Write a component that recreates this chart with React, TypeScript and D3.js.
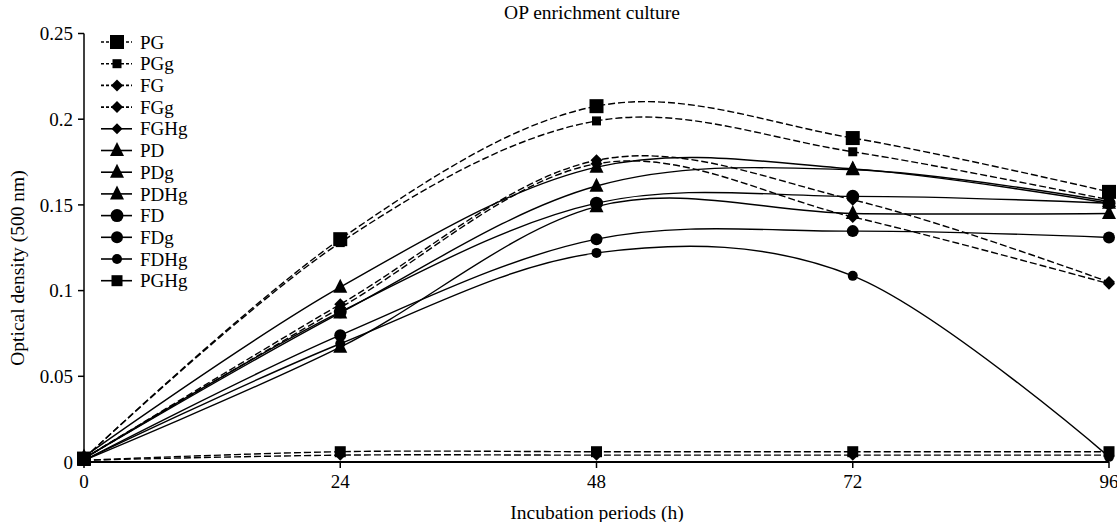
import React from "react";
import * as d3 from "d3";

// incubation periods (h)
const hours = [0, 24, 48, 72, 96];
const yTicks = [0, 0.05, 0.1, 0.15, 0.2, 0.25];

// optical density (500 nm) per culture
const PG = [0.002, 0.13, 0.2076, 0.189, 0.1576];
const PGg = [0.002, 0.128, 0.199, 0.181, 0.153];
const FG = [0.002, 0.092, 0.176, 0.153, 0.105];
const FGg = [0.002, 0.09, 0.174, 0.143, 0.104];
const FGHg = [0.001, 0.004, 0.004, 0.004, 0.004];
const PD = [0.003, 0.102, 0.172, 0.171, 0.151];
const PDg = [0.002, 0.087, 0.161, 0.1705, 0.152];
const PDHg = [0.001, 0.067, 0.149, 0.145, 0.145];
const FD = [0.002, 0.0876, 0.151, 0.155, 0.151];
const FDg = [0.001, 0.074, 0.13, 0.1347, 0.131];
const FDHg = [0.001, 0.069, 0.122, 0.1086, 0.003];
const PGHg = [0.001, 0.006, 0.006, 0.006, 0.006];

const seriesNames = ["PG", "PGg", "FG", "FGg", "FGHg", "PD", "PDg", "PDHg", "FD", "FDg", "FDHg", "PGHg"];
const seriesValues = [PG, PGg, FG, FGg, FGHg, PD, PDg, PDHg, FD, FDg, FDHg, PGHg];
const markerShapes = ["square", "square", "diamond", "diamond", "diamond", "triangle", "triangle", "triangle", "circle", "circle", "circle", "square"];
const markerSizes = [14, 9, 12, 12, 11, 14, 14, 14, 13, 12, 10, 11];
const legendDashed = [true, true, true, true, false, false, false, false, false, false, false, false];
const plotDashed = [true, true, true, true, true, false, false, false, false, false, false, true];

const font = "'Liberation Serif', 'DejaVu Serif', Tinos, serif";

const Marker = ({ shape, size, x, y }) => {
    const h = size / 2;
    if (shape === "square") {
        return <rect x={x - h} y={y - h} width={size} height={size} fill="#000" />;
    }
    if (shape === "diamond") {
        return <polygon points={`${x},${y - h} ${x + h},${y} ${x},${y + h} ${x - h},${y}`} fill="#000" />;
    }
    if (shape === "triangle") {
        return (
            <polygon
                points={`${x},${y - size * 0.6} ${x + h},${y + size * 0.4} ${x - h},${y + size * 0.4}`}
                fill="#000"
            />
        );
    }
    return <circle cx={x} cy={y} r={h} fill="#000" />;
};

const App = () => {
    const width = 1117;
    const height = 522;

    const x = d3.scaleLinear().domain([0, 96]).range([84, 1109]);
    const y = d3.scaleLinear().domain([0, 0.25]).range([462, 33.5]);

    const line = d3
        .line()
        .x((d) => x(d[0]))
        .y((d) => y(d[1]))
        .curve(d3.curveCardinal.tension(0));

    const legendX = 101;
    const legendY0 = 42;
    const legendStep = 21.7;
    const txt = { fontFamily: font };

    return (
        <svg
            width={width}
            height={height}
            style={{ position: "absolute", left: 0, top: 0, background: "#fff" }}
        >
            <rect width={width} height={height} fill="#fff" />

            {/* title */}
            <text x={592} y={19} textAnchor="middle" fontSize="19.5px" style={txt}>
                OP enrichment culture
            </text>

            {/* series lines */}
            {seriesValues.map((vals, i) => (
                <path
                    key={"l" + i}
                    d={line(hours.map((h, j) => [h, vals[j]]))}
                    fill="none"
                    stroke="#000"
                    strokeWidth={1.4}
                    strokeDasharray={plotDashed[i] ? "7,3" : null}
                />
            ))}

            {/* markers */}
            {seriesValues.map((vals, i) => (
                <g key={"m" + i}>
                    {hours.map((h, j) => (
                        <Marker key={j} shape={markerShapes[i]} size={markerSizes[i]} x={x(h)} y={y(vals[j])} />
                    ))}
                </g>
            ))}

            {/* y axis */}
            <line x1={x(0)} x2={x(0)} y1={y(0)} y2={y(0.25)} stroke="#000" strokeWidth={1.5} />
            {yTicks.map((t) => (
                <g key={t}>
                    <line x1={x(0) - 6} x2={x(0)} y1={y(t)} y2={y(t)} stroke="#000" strokeWidth={1.5} />
                    <text x={x(0) - 11} y={y(t)} dy="0.35em" textAnchor="end" fontSize="19px" style={txt}>
                        {t}
                    </text>
                </g>
            ))}

            {/* x axis */}
            <line x1={x(0)} x2={x(96)} y1={y(0)} y2={y(0)} stroke="#000" strokeWidth={1.8} />
            {hours.map((t) => (
                <g key={t}>
                    <line x1={x(t)} x2={x(t)} y1={y(0)} y2={y(0) + 6} stroke="#000" strokeWidth={1.5} />
                    <text x={x(t)} y={488} textAnchor="middle" fontSize="19px" style={txt}>
                        {t}
                    </text>
                </g>
            ))}

            {/* axis titles */}
            <text x={597} y={519} textAnchor="middle" fontSize="19.5px" style={txt}>
                Incubation periods (h)
            </text>
            <text transform="translate(24,268) rotate(-90)" textAnchor="middle" fontSize="19.5px" style={txt}>
                Optical density (500 nm)
            </text>

            {/* legend */}
            {seriesNames.map((name, i) => {
                const ly = legendY0 + i * legendStep;
                return (
                    <g key={name}>
                        <line
                            x1={legendX}
                            x2={legendX + 31}
                            y1={ly}
                            y2={ly}
                            stroke="#000"
                            strokeWidth={1.6}
                            strokeDasharray={legendDashed[i] ? "3,2" : null}
                        />
                        <Marker shape={markerShapes[i]} size={markerSizes[i]} x={legendX + 16} y={ly} />
                        <text x={legendX + 39} y={ly} dy="0.35em" fontSize="19px" style={txt}>
                            {name}
                        </text>
                    </g>
                );
            })}
        </svg>
    );
};

export default App;
